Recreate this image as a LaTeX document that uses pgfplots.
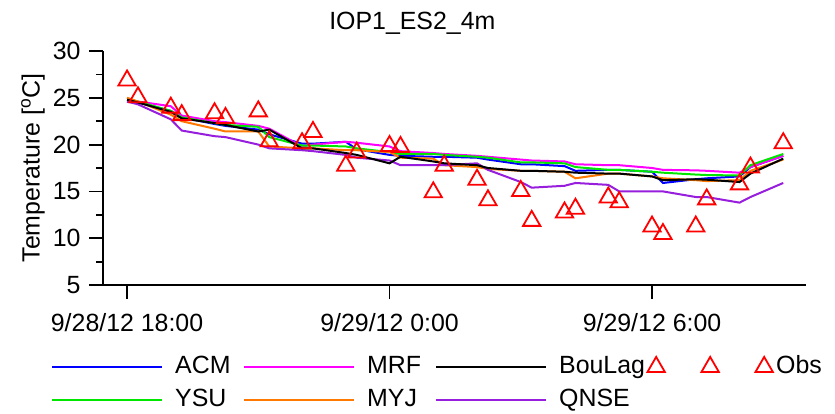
\documentclass[border=0pt]{standalone}
\usepackage{pgfplots}
\usepackage{pgfplotstable}
\pgfplotsset{compat=1.18}
\usepackage{fontspec}
\setmainfont{Liberation Sans}
\definecolor{cacm}{RGB}{0,0,255}
\definecolor{cmrf}{RGB}{255,0,255}
\definecolor{cysu}{RGB}{0,230,0}
\definecolor{cmyj}{RGB}{255,120,0}
\definecolor{cqnse}{RGB}{150,30,220}
\definecolor{cobs}{RGB}{255,0,0}

\pgfplotsset{
  lleg/.style={legend image code/.code={\draw[#1, line width=2bp] (0bp,0bp) -- (110bp,0bp);}},
  obsleg/.style={legend image code/.code={%
    \draw[draw=cobs, fill=none, solid, line width=1.8bp, overlay] plot[mark=triangle, mark size=10bp] coordinates {(2bp,0bp)};
    \draw[draw=cobs, fill=none, solid, line width=1.8bp, overlay] plot[mark=triangle, mark size=10bp] coordinates {(56bp,0bp)};
    \draw[draw=cobs, fill=none, solid, line width=1.8bp, overlay] plot[mark=triangle, mark size=10bp] coordinates {(110bp,0bp)};
    \path[draw=none] (0bp,0bp) -- (110bp,0bp);}},
}

\pgfplotstableread{
t     acm   mrf   ysu   bou   myj   qnse
0     24.6  24.8  24.8  24.8  25.0  24.6
0.25  24.5  24.6  24.6  24.5  24.6  24.3
1     23.6  24.1  23.6  23.5  23.2  22.7
1.25  22.9  23.1  22.9  22.8  22.5  21.5
2     22.2  22.5  22.3  22.3  21.7  20.9
2.25  22.0  22.4  22.1  22.1  21.4  20.8
3     21.6  22.0  21.9  21.4  21.4  20.0
3.25  21.1  21.7  20.8  21.6  19.8  19.6
4     20.1  19.8  19.9  19.6  19.6  19.4
4.25  20.1  20.0  19.9  19.6  19.6  19.3
5     20.3  20.3  19.8  19.1  19.4  18.9
5.25  19.5  20.2  19.6  18.9  19.4  18.6
6     18.9  19.8  19.2  18.0  19.2  18.3
6.25  18.8  19.3  19.0  18.7  18.6  17.8
7     18.7  19.1  19.0  18.2  18.5  17.8
7.25  18.7  19.0  18.9  18.0  17.8  17.8
8     18.6  18.8  18.7  17.8  17.6  18.0
8.25  18.4  18.7  18.6  17.5  17.4  17.3
9     17.9  18.4  18.1  17.2  17.2  16.0
9.25  17.9  18.3  18.1  17.2  17.2  15.4
10    17.7  18.2  18.0  17.1  17.1  15.6
10.25 17.2  17.9  17.6  17.0  16.4  15.9
11    17.3  17.8  17.3  16.9  16.9  15.7
11.25 17.3  17.8  17.3  16.9  16.9  15.0
12    17.1  17.5  17.1  16.6  16.6  15.0
12.25 15.9  17.3  17.0  16.2  16.4  15.0
13    16.3  17.25 16.8  16.3  16.2  14.4
13.25 16.4  17.2  16.75 16.25 16.1  14.4
14    16.6  17.0  16.7  16.0  16.2  13.8
14.25 17.6  17.6  17.8  16.9  17.2  14.4
15    18.8  18.8  19.0  18.5  18.4  15.9
}\models

\pgfplotstableread{
t     obs
0     26.85
0.25  25.05
1     23.95
1.25  23.15
2     23.35
2.25  22.85
3     23.55
3.25  20.35
4     20.15
4.25  21.35
5     17.75
5.25  19.15
6     19.85
6.25  19.75
7     14.9
7.25  17.75
8     16.25
8.25  14.05
9     15.05
9.25  11.85
10    12.75
10.25 13.15
11    14.35
11.25 13.85
12    11.25
12.25 10.45
13    11.25
13.25 14.15
14    15.75
14.25 17.55
15    20.15
}\obsdata

\newcommand{\bigfont}{\fontsize{25}{30}\selectfont}

\begin{document}
\begin{tikzpicture}
\useasboundingbox (-103bp,-129bp) rectangle (732bp,285bp);
\begin{axis}[
  at={(0,0)}, anchor=south west,
  scale only axis, width=703bp, height=234bp,
  xmin=-0.55, xmax=15.52, ymin=5, ymax=30,
  axis lines=left,
  axis line style={-, line width=1.8bp},
  xtick={0,6,12},
  xticklabels={9/28/12 18:00, 9/29/12 0:00, 9/29/12 6:00},
  ytick={5,10,...,30},
  minor ytick={7.5,12.5,...,27.5},
  tick align=outside,
  major tick length=14bp, minor tick length=7bp,
  every tick/.style={black, line width=1.8bp},
  minor tick style={black, line width=1.8bp},
  /pgf/number format/assume math mode=true,
  tick label style={font=\bigfont},
  xticklabel style={yshift=-11bp},
  yticklabel style={xshift=-5bp},
  title={IOP1\_ES2\_4m},
  title style={font=\bigfont, at={(axis description cs:0.44,1)}, anchor=base, yshift=16bp},
  ylabel={Temperature [\textsuperscript{o}C]},
  ylabel style={font=\bigfont, at={(axis description cs:-0.0996,0.5)}, anchor=center},
  clip=false,
  legend columns=4,
  legend cell align=left,
  legend style={draw=none, fill=none, font=\bigfont,
    at={(axis description cs:-0.0740,-0.30)}, anchor=north west,
    inner sep=0pt, row sep=10bp, column sep=0pt,
    nodes={inner sep=0pt, text height=18bp, text depth=5bp},
    /tikz/every odd column/.append style={column sep=12bp},
    /tikz/column 2/.append style={nodes={text width=68bp}},
    /tikz/column 4/.append style={nodes={text width=68bp}},
    /tikz/column 6/.append style={nodes={text width=95bp}},
    /tikz/column 7/.append style={column sep=13bp}},
]
\addplot[forget plot, cacm, line width=2bp] table[x=t, y=acm] {\models};
\addplot[forget plot, cmrf, line width=2bp] table[x=t, y=mrf] {\models};
\addplot[forget plot, cysu, line width=2bp] table[x=t, y=ysu] {\models};
\addplot[forget plot, cmyj, line width=2bp] table[x=t, y=myj] {\models};
\addplot[forget plot, cqnse, line width=2bp] table[x=t, y=qnse] {\models};
\addplot[forget plot, black, line width=2bp] table[x=t, y=bou] {\models};
\addplot[forget plot, only marks, mark=triangle, mark size=10bp, mark options={draw=cobs, line width=1.8bp}] table[x=t, y=obs] {\obsdata};

\addlegendimage{lleg=cacm}
\addlegendentry{ACM}
\addlegendimage{lleg=cmrf}
\addlegendentry{MRF}
\addlegendimage{lleg=black}
\addlegendentry{BouLag}
\addlegendimage{obsleg}
\addlegendentry{Obs}
\addlegendimage{lleg=cysu}
\addlegendentry{YSU}
\addlegendimage{lleg=cmyj}
\addlegendentry{MYJ}
\addlegendimage{lleg=cqnse}
\addlegendentry{QNSE}
\end{axis}
\end{tikzpicture}
\end{document}
